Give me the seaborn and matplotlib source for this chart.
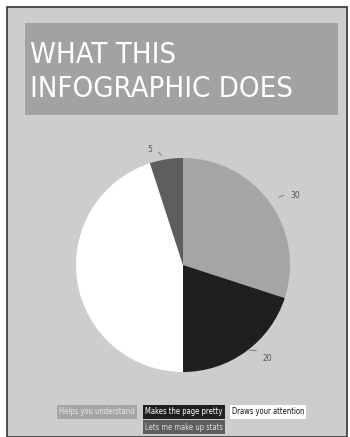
import matplotlib
matplotlib.use("Agg")
import matplotlib.pyplot as plt
import seaborn as sns

# Chart data
categories = ['Helps you understand', 'Makes the page pretty', 'Draws your attention', 'Lets me make up stats']
values = [30, 20, 45, 5]
slice_colors = ['#a5a5a5', '#1f1f1f', '#ffffff', '#5e5e5e']
label_text_colors = ['#e6e6e6', '#ffffff', '#111111', '#dddddd']

sns.set_theme(style='white')
plt.rcParams['font.family'] = ['DejaVu Sans']

bg = '#cdcdcd'
fig = plt.figure(figsize=(3.5, 4.37), dpi=100)
fig.patch.set_facecolor('white')

# outer frame
fig.patches.append(plt.Rectangle((7/350, 0), 340/350, 430/437, transform=fig.transFigure,
                                 facecolor=bg, edgecolor='#333333', lw=1.2, zorder=0))
# title box
fig.patches.append(plt.Rectangle((25/350, 1 - 115/437), 313/350, 92/437, transform=fig.transFigure,
                                 facecolor='#a2a2a2', edgecolor='none', zorder=1))
title_kw = dict(color='white', fontsize=21, fontweight='light', fontstretch='condensed',
                family='DejaVu Sans', ha='left', va='baseline', zorder=2)
fig.text(30/350, 1 - 63/437, 'WHAT THIS', **title_kw)
fig.text(30/350, 1 - 97/437, 'INFOGRAPHIC DOES', **title_kw)

# pie
ax = fig.add_axes([76/350, 1 - 372/437, 214/350, 214/437], zorder=3)
ax.set_facecolor('none')
wedges, _ = ax.pie(values, colors=slice_colors, startangle=90, counterclock=False,
                   wedgeprops=dict(linewidth=0))
ax.set_xlim(-1, 1)
ax.set_ylim(-1, 1)
ax.set_aspect('equal')

# value labels with short leader lines
lab_kw = dict(fontsize=5.5, color='#555555', va='center', annotation_clip=False)
ax.annotate(str(values[0]), xy=(0.87, 0.62), xytext=(1.0, 0.65),
            arrowprops=dict(arrowstyle='-', color='#777777', lw=0.6, connectionstyle='arc3,rad=0.2'),
            **lab_kw)
ax.annotate(str(values[1]), xy=(0.6, -0.8), xytext=(0.74, -0.87),
            arrowprops=dict(arrowstyle='-', color='#666666', lw=0.6, connectionstyle='arc3,rad=0.3'),
            **lab_kw)
ax.annotate(str(values[3]), xy=(-0.19, 1.0), xytext=(-0.33, 1.08),
            arrowprops=dict(arrowstyle='-', color='#777777', lw=0.6, connectionstyle='arc3,rad=-0.3'),
            **lab_kw)

# legend as colored label boxes
leg_kw = dict(fontsize=5.5, fontstretch='condensed', ha='center', va='center', zorder=4)
row1 = [(97, 0), (184, 1), (268, 2)]
for x, i in row1:
    fig.text(x/350, 1 - 412/437, categories[i], color=label_text_colors[i],
             bbox=dict(facecolor=slice_colors[i], edgecolor='none', pad=1.5), **leg_kw)
fig.text(184/350, 1 - 427/437, categories[3], color=label_text_colors[3],
         bbox=dict(facecolor=slice_colors[3], edgecolor='none', pad=1.5), **leg_kw)

fig.savefig('out.png', dpi=100, facecolor=fig.get_facecolor())
